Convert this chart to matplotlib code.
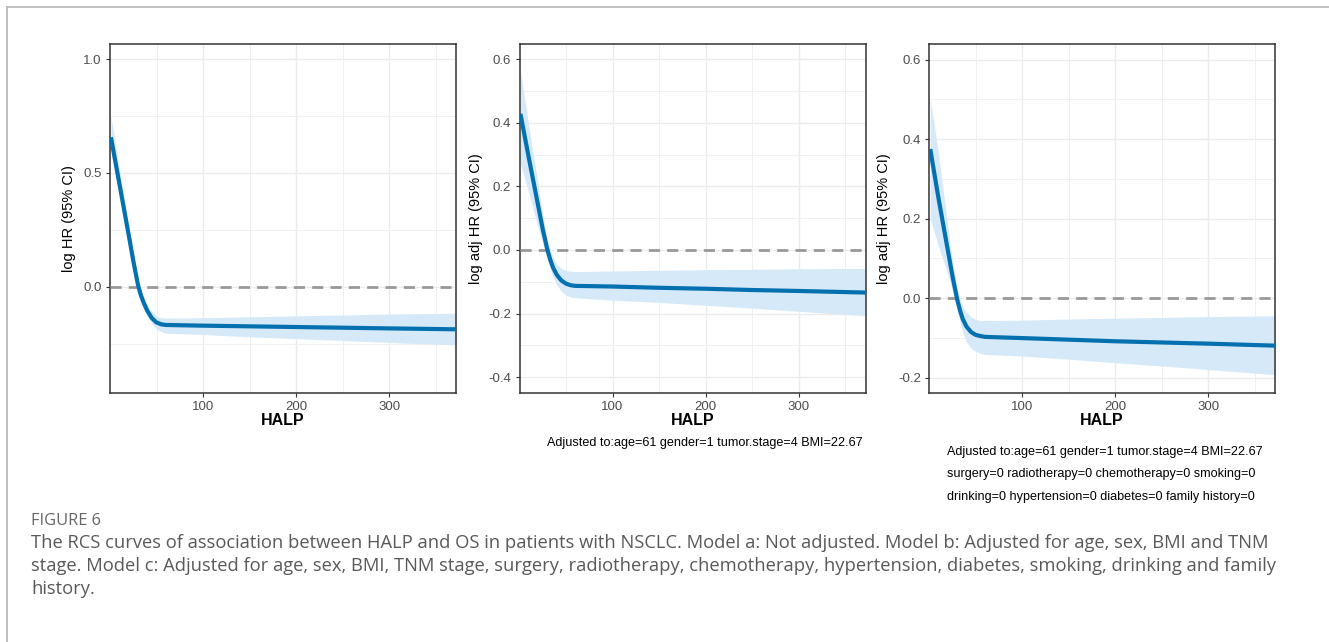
"""
RCS-кривые связи HALP и OS (три модели) с подписью рисунка.
"""

import matplotlib.pyplot as plt
from matplotlib.lines import Line2D

# Шрифт для графиков (аналог Arial)
plt.rcParams['font.family'] = ['Liberation Sans', 'DejaVu Sans']

# Значения HALP, в которых снята кривая (общие для трёх моделей)
halp = [1, 10, 20, 25, 30, 33, 36, 40, 45, 50, 55, 60, 100, 150, 200, 250, 300, 372]

# Модель a: без поправок
fit_a = [0.657, 0.455, 0.230, 0.115, 0.010, -0.035, -0.068, -0.105, -0.138, -0.157, -0.165,
         -0.168, -0.171, -0.174, -0.177, -0.180, -0.183, -0.187]
low_a = [0.600, 0.410, 0.200, 0.090, -0.010, -0.055, -0.090, -0.128, -0.163, -0.185, -0.197,
         -0.204, -0.210, -0.220, -0.228, -0.236, -0.245, -0.256]
high_a = [0.750, 0.520, 0.270, 0.140, 0.030, -0.015, -0.045, -0.080, -0.110, -0.128, -0.136,
          -0.138, -0.136, -0.132, -0.128, -0.124, -0.120, -0.116]

# Модель b: возраст, пол, ИМТ, стадия TNM
fit_b = [0.428, 0.290, 0.140, 0.065, 0.000, -0.030, -0.055, -0.078, -0.096, -0.106, -0.111,
         -0.113, -0.115, -0.119, -0.122, -0.126, -0.129, -0.134]
low_b = [0.270, 0.180, 0.070, 0.020, -0.030, -0.060, -0.085, -0.110, -0.130, -0.142, -0.148,
         -0.150, -0.158, -0.165, -0.174, -0.183, -0.193, -0.207]
high_b = [0.565, 0.390, 0.205, 0.110, 0.030, 0.000, -0.025, -0.045, -0.058, -0.065, -0.067,
          -0.068, -0.066, -0.064, -0.062, -0.061, -0.059, -0.058]

# Модель c: полная поправка
fit_c = [0.375, 0.250, 0.120, 0.055, -0.003, -0.030, -0.052, -0.071, -0.085, -0.092, -0.095,
         -0.097, -0.100, -0.104, -0.108, -0.111, -0.114, -0.119]
low_c = [0.200, 0.130, 0.060, 0.020, -0.030, -0.060, -0.085, -0.110, -0.125, -0.134, -0.139,
         -0.141, -0.145, -0.153, -0.162, -0.170, -0.179, -0.192]
high_c = [0.505, 0.360, 0.180, 0.095, 0.025, 0.000, -0.020, -0.035, -0.047, -0.053, -0.056,
          -0.056, -0.055, -0.052, -0.050, -0.048, -0.046, -0.044]

# Подписи и шкалы
x_label = 'HALP'
y_labels = ['log HR (95% CI)', 'log adj HR (95% CI)', 'log adj HR (95% CI)']
x_ticks = [100, 200, 300]
x_minor = [50, 150, 250, 350]
y_ticks = [[0.0, 0.5, 1.0], [-0.4, -0.2, 0.0, 0.2, 0.4, 0.6], [-0.2, 0.0, 0.2, 0.4, 0.6]]
y_minor = [[-0.25, 0.25, 0.75], [-0.3, -0.1, 0.1, 0.3, 0.5], [-0.1, 0.1, 0.3, 0.5]]
y_limits = [(-0.467, 1.067), (-0.45, 0.648), (-0.238, 0.639)]

adjust_b = ['Adjusted to:age=61 gender=1 tumor.stage=4 BMI=22.67']
adjust_c = ['Adjusted to:age=61 gender=1 tumor.stage=4 BMI=22.67',
            'surgery=0 radiotherapy=0 chemotherapy=0 smoking=0',
            'drinking=0 hypertension=0 diabetes=0 family history=0']

caption_head = 'FIGURE 6'
caption_lines = [
    'The RCS curves of association between HALP and OS in patients with NSCLC. '
    'Model a: Not adjusted. Model b: Adjusted for age, sex, BMI and TNM',
    'stage. Model c: Adjusted for age, sex, BMI, TNM stage, surgery, radiotherapy, '
    'chemotherapy, hypertension, diabetes, smoking, drinking and family',
    'history.',
]

# Цвета
LINE_COLOR = '#0570b0'
BAND_COLOR = '#d6e9f8'
GRID_COLOR = '#ebebeb'
BORDER_COLOR = '#333333'
TEXT_COLOR = '#4d4d4d'
CAPTION_FONT = ['Open Sans', 'DejaVu Sans']

W, H = 1329, 642
fig = plt.figure(figsize=(W / 100, H / 100), dpi=100)

# Положение панелей в пикселях: (левый край, правый край)
panel_x = [(110, 456), (519.5, 865.7), (929.3, 1275)]
panel_top, panel_bottom = 44, 393
ylabel_x = [69, 476, 884]

series = [(fit_a, low_a, high_a),
          (fit_b, low_b, high_b),
          (fit_c, low_c, high_c)]

for i, (x0, x1) in enumerate(panel_x):
    ax = fig.add_axes([x0 / W, 1 - panel_bottom / H, (x1 - x0) / W,
                       (panel_bottom - panel_top) / H])
    fit, low, high = series[i]

    # Доверительный интервал и кривая
    ax.fill_between(halp, low, high, color=BAND_COLOR, lw=0, zorder=2)
    ax.axhline(0, color='#999999', lw=2.0, ls=(0, (4, 2.6)), zorder=3)
    ax.plot(halp, fit, color=LINE_COLOR, lw=3.0, solid_capstyle='butt',
            solid_joinstyle='round', zorder=4)

    # Оси и сетка
    ax.set_xlim(0, 372)
    ax.set_ylim(*y_limits[i])
    ax.set_xticks(x_ticks)
    ax.set_xticks(x_minor, minor=True)
    ax.set_yticks(y_ticks[i])
    ax.set_yticks(y_minor[i], minor=True)
    ax.set_yticklabels([f'{v:.1f}' for v in y_ticks[i]])
    ax.grid(True, which='major', color=GRID_COLOR, lw=1.0, zorder=0)
    ax.grid(True, which='minor', color='#f0f0f0', lw=0.7, zorder=0)
    ax.set_axisbelow(True)
    ax.tick_params(which='major', length=3, width=0.8, color=BORDER_COLOR,
                   labelsize=9.5, labelcolor=TEXT_COLOR, pad=3)
    ax.tick_params(which='minor', length=0)
    for sp in ax.spines.values():
        sp.set_color(BORDER_COLOR)
        sp.set_linewidth(1.1)

    # Подписи осей
    ax.set_xlabel(x_label, fontsize=11.5, fontweight='bold', color='black')
    ax.xaxis.set_label_coords(0.5, -(420.7 - panel_bottom) / (panel_bottom - panel_top))
    ax.xaxis.label.set_va('center')
    ax.set_ylabel(y_labels[i], fontsize=10.5, color='black')
    ax.yaxis.set_label_coords((ylabel_x[i] - x0) / (x1 - x0), 0.5)
    ax.yaxis.label.set_va('center')

# Тексты о поправках
for j, line in enumerate(adjust_b):
    fig.text(546.7 / W, 1 - (442.7 + 22.5 * j) / H, line, fontsize=9.1,
             color='black', ha='left', va='center')
for j, line in enumerate(adjust_c):
    fig.text(946.7 / W, 1 - (451.7 + 22.5 * j) / H, line, fontsize=9.1,
             color='black', ha='left', va='center')

# Рамка страницы
fig.add_artist(Line2D([7 / W, 1], [1 - 6.5 / H, 1 - 6.5 / H], color='#b5b5b5', lw=1.2))
fig.add_artist(Line2D([7 / W, 7 / W], [0, 1 - 6.5 / H], color='#b5b5b5', lw=1.2))

# Подпись рисунка
fig.text(31 / W, 1 - 521 / H, caption_head, fontsize=11.8, color='#666666',
         family=CAPTION_FONT, ha='left', va='center')
for j, line in enumerate(caption_lines):
    fig.text(31 / W, 1 - (543 + 23 * j) / H, line, fontsize=13.2, color='#595959',
             family=CAPTION_FONT, ha='left', va='center')

fig.savefig('out.png', dpi=100)
plt.close(fig)
